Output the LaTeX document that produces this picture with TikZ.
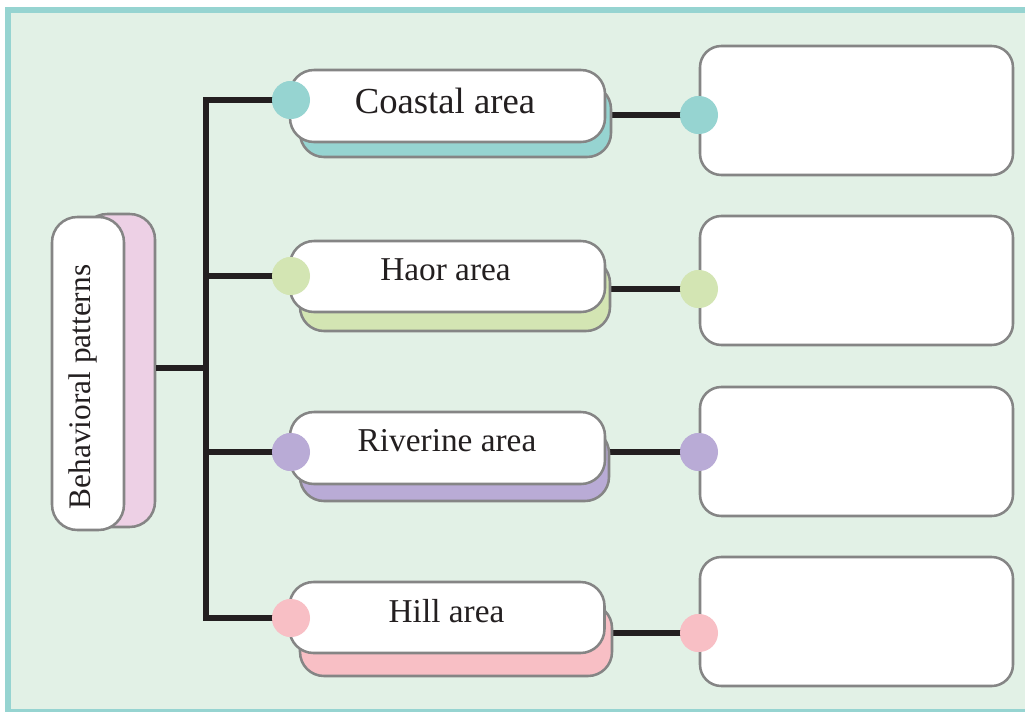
\documentclass[tikz,border=0pt]{standalone}
\usepackage{fontspec}
\setmainfont{Liberation Serif}
\definecolor{bgfill}{HTML}{E2F1E6}
\definecolor{teal}{HTML}{96D4D1}
\definecolor{leaf}{HTML}{D3E5B3}
\definecolor{lilac}{HTML}{B9ABD6}
\definecolor{rose}{HTML}{F8BFC5}
\definecolor{mauve}{HTML}{EDD0E5}
\definecolor{edge}{HTML}{858585}
\definecolor{ink}{HTML}{231F20}
\tikzset{
  box/.style={draw=edge, line width=1.9pt, rounded corners=18pt, inner sep=0pt,
    minimum width=315*0.75pt, minimum height=72*0.75pt},
  backbox/.style={box, minimum width=311*0.75pt},
  notebox/.style={draw=edge, line width=1.9pt, fill=white, rounded corners=16pt,
    inner sep=0pt, minimum width=313*0.75pt, minimum height=129*0.75pt},
  dot/.style={circle, inner sep=0pt, minimum size=38*0.75pt},
  link/.style={draw=ink, line width=3.9pt},
  label/.style={anchor=base, text=ink, inner sep=0pt, font=\fontsize{25}{30}\selectfont},
}
\begin{document}
\begin{tikzpicture}[x=0.75pt, y=-0.75pt]
\useasboundingbox (0,0) rectangle (1025,711);
\clip (0,0) rectangle (1025,711);
% frame
\draw[draw=teal, fill=bgfill, line width=4.5pt] (8,9.5) rectangle (1032,712);

% root
\node[box, fill=mauve, rounded corners=19pt, minimum width=73*0.75pt, minimum height=313*0.75pt] (rootback) at (118.5,370.5) {};
\node[box, fill=white, rounded corners=19pt, minimum width=72*0.75pt, minimum height=313*0.75pt] (root) at (88,373.5) {};
\node[label, rotate=90, font=\fontsize{23.5}{28}\selectfont] (roottext) at (90,387) {Behavioral patterns};

% tree connectors
\coordinate (hub) at (206,368);
\coordinate (jt) at (206,100);
\coordinate (jb) at (206,619);
\node[dot, fill=teal] (la) at (291,100) {};
\node[dot, fill=leaf] (lb) at (291,276) {};
\node[dot, fill=lilac] (lc) at (291,452) {};
\node[dot, fill=rose] (ld) at (291,618) {};
\node[dot, fill=teal] (ra) at (699,115) {};
\node[dot, fill=leaf] (rb) at (699,289) {};
\node[dot, fill=lilac] (rc) at (699,452) {};
\node[dot, fill=rose] (rd) at (699,633) {};

\draw[link] (rootback.east |- hub) -- (hub);
\draw[link, line join=miter] (la.center) -- (jt) -- (jb |- ld.center) -- (ld.center);
\draw[link] (jt |- lb.center) -- (lb.center);
\draw[link] (jt |- lc.center) -- (lc.center);

\draw[link] (600,115) -- (ra.center);
\draw[link] (600,289) -- (rb.center);
\draw[link] (600,452) -- (rc.center);
\draw[link] (600,633) -- (rd.center);

% area boxes
\node[backbox, fill=teal] (aback) at (455.5,121) {};
\node[box, fill=white] (a) at (447.5,106) {};
\node[backbox, fill=leaf, minimum width=310*0.75pt] (bback) at (455,295) {};
\node[box, fill=white, minimum height=71*0.75pt] (b) at (447.5,276.5) {};
\node[backbox, fill=lilac, minimum width=309*0.75pt] (cback) at (454.5,465) {};
\node[box, fill=white] (c) at (447.5,448) {};
\node[backbox, fill=rose, minimum width=312*0.75pt] (dback) at (456,640) {};
\node[box, fill=white, minimum height=71*0.75pt] (d) at (447,617.5) {};

\node[label, font=\fontsize{27.5}{32}\selectfont] (at) at (445,113) {Coastal area};
\node[label] (bt) at (445.5,280) {Haor area};
\node[label] (ct) at (447,451) {Riverine area};
\node[label] (dt) at (446.5,622) {Hill area};

% empty note boxes
\node[notebox] (na) at (856.5,110.5) {};
\node[notebox] (nb) at (856.5,280.5) {};
\node[notebox] (nc) at (856.5,451.5) {};
\node[notebox] (nd) at (856.5,621.5) {};

% dots on top
\foreach \n/\c in {la/teal, lb/leaf, lc/lilac, ld/rose, ra/teal, rb/leaf, rc/lilac, rd/rose}
  \fill[\c] (\n) circle[radius=19*0.75pt];
\end{tikzpicture}
\end{document}
